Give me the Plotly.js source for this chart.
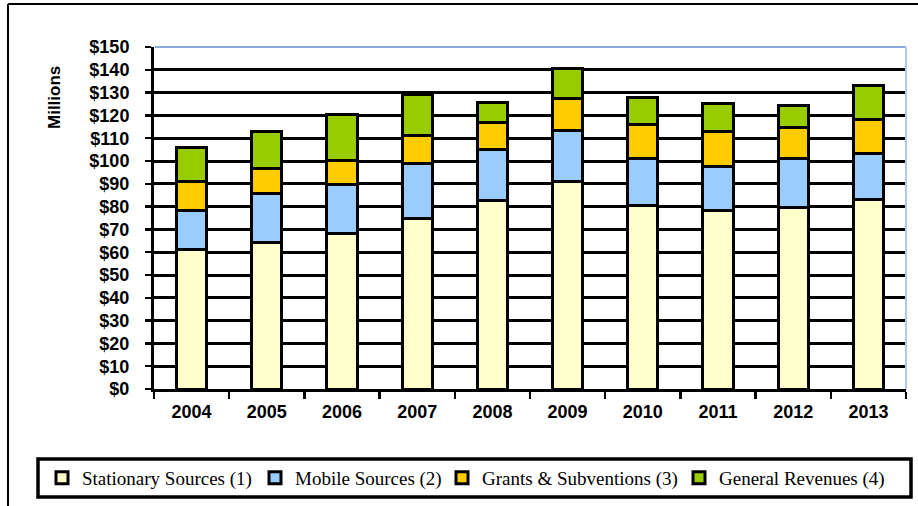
<!DOCTYPE html>
<html>
<head>
<meta charset="utf-8">
<script src="https://cdn.plot.ly/plotly-3.0.1.min.js"></script>
<style>html,body{margin:0;padding:0;background:#fff;}#chart{width:918px;height:506px;}</style>
</head>
<body>
<div id="chart"></div>
<script>
const years = ['2004','2005','2006','2007','2008','2009','2010','2011','2012','2013'];
const stationary = [61.0, 64.3, 68.1, 75.0, 82.5, 91.2, 80.6, 78.4, 79.4, 83.1];
const mobile     = [17.2, 21.4, 21.5, 24.0, 22.4, 22.3, 20.4, 19.4, 21.6, 20.3];
const grants     = [13.0, 11.1, 10.8, 12.0, 12.0, 13.7, 15.2, 15.1, 13.7, 15.0];
const general    = [14.7, 16.1, 20.2, 18.1,  8.8, 13.2, 11.7, 12.5,  9.6, 14.7];
const seriesNames = ['Stationary Sources (1)', 'Mobile Sources (2)', 'Grants &amp; Subventions (3)', 'General Revenues (4)'];
const seriesColors = ['#FFFFCC', '#99CCFF', '#FFCC00', '#99CC00'];
const yTickVals = [0,10,20,30,40,50,60,70,80,90,100,110,120,130,140,150];
const yTickText = yTickVals.map(v => '$' + v);

const W = 918, H = 506;
const L = 154, R = 906, T = 47, B = 389;
const px = x => (x - L) / (R - L);
const py = y => (B - y) / (B - T);

const legendIds = ['legend', 'legend2', 'legend3', 'legend4'];
const legendLeft = [42, 255, 442, 679];

const dataSets = [stationary, mobile, grants, general];
const traces = dataSets.map((vals, i) => ({
  type: 'bar',
  x: years,
  y: vals,
  name: seriesNames[i],
  legend: legendIds[i],
  width: 0.4,
  marker: { color: seriesColors[i], line: { color: '#000', width: 3 } },
  hoverinfo: 'skip'
}));

const tickFont = { family: 'Liberation Sans, Arial, sans-serif', size: 18, color: '#000', weight: 'bold' };

const layout = {
  width: W, height: H,
  margin: { l: L, r: W - R, t: T, b: H - B, pad: 0 },
  paper_bgcolor: '#fff',
  plot_bgcolor: '#fff',
  barmode: 'stack',
  showlegend: true,
  font: { family: 'Liberation Sans, Arial, sans-serif', color: '#000' },
  xaxis: {
    type: 'category',
    showgrid: false,
    showline: true, linecolor: '#000', linewidth: 3,
    ticks: 'outside', tickson: 'boundaries', ticklen: 7, tickwidth: 2.5, tickcolor: '#000',
    ticklabelstandoff: 4,
    tickfont: tickFont,
    fixedrange: true
  },
  yaxis: {
    range: [0, 150],
    tickvals: yTickVals, ticktext: yTickText,
    showgrid: true, gridcolor: '#000', gridwidth: 3,
    showline: true, linecolor: '#000', linewidth: 3,
    ticks: 'outside', ticklen: 6, tickwidth: 2.5, tickcolor: '#000',
    ticklabelstandoff: 12,
    tickfont: tickFont,
    zeroline: false,
    fixedrange: true
  },
  annotations: [{
    text: '<b>Millions</b>',
    xref: 'paper', yref: 'paper',
    x: px(54), y: py(98),
    xanchor: 'center', yanchor: 'middle',
    textangle: -90, showarrow: false,
    font: { family: 'Liberation Sans, Arial, sans-serif', size: 17, color: '#000' }
  }],
  shapes: [
    { type: 'line', xref: 'paper', yref: 'paper', x0: px(155), x1: px(906), y0: 1, y1: 1, line: { color: '#8EA9DB', width: 2 }, layer: 'above' },
    { type: 'line', xref: 'paper', yref: 'paper', x0: 1, x1: 1, y0: 0, y1: 1, line: { color: '#B4C7E7', width: 2 }, layer: 'above' },
    { type: 'line', xref: 'paper', yref: 'paper', x0: px(8), x1: px(918), y0: py(4), y1: py(4), line: { color: '#000', width: 2 } },
    { type: 'line', xref: 'paper', yref: 'paper', x0: px(8), x1: px(8), y0: py(4), y1: py(506), line: { color: '#000', width: 2 } },
    { type: 'rect', xref: 'paper', yref: 'paper', x0: px(38), x1: px(911), y0: py(459), y1: py(497), line: { color: '#000', width: 3.5 }, fillcolor: 'rgba(0,0,0,0)' }
  ]
};

legendIds.forEach((id, i) => {
  layout[id] = {
    orientation: 'h',
    xref: 'container', yref: 'container',
    x: legendLeft[i] / W, xanchor: 'left',
    y: 1 - 478 / H, yanchor: 'middle',
    bgcolor: 'rgba(0,0,0,0)', borderwidth: 0,
    font: { family: 'Liberation Serif, Times New Roman, serif', size: 19, color: '#000' },
    itemclick: false, itemdoubleclick: false
  };
});

Plotly.newPlot('chart', traces, layout, { displayModeBar: false, staticPlot: true });
</script>
</body>
</html>
